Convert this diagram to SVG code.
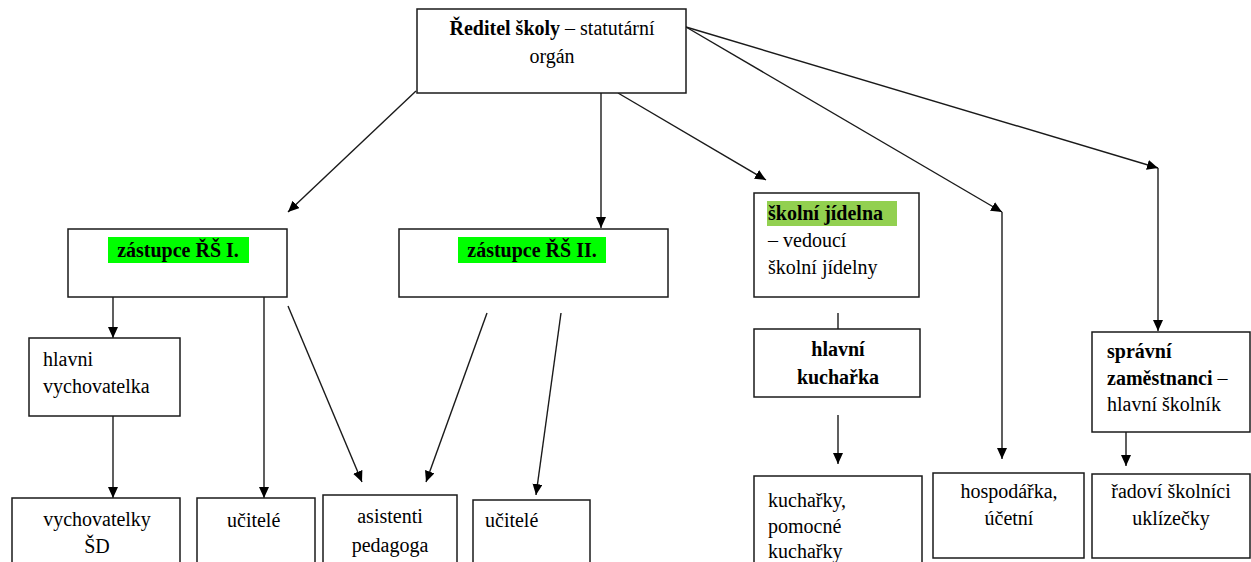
<svg xmlns="http://www.w3.org/2000/svg" width="1251" height="562" viewBox="0 0 1251 562">
<style>
.box{fill:#fff;stroke:#1a1a1a;stroke-width:1.5}
text{font-family:'Liberation Serif','DejaVu Serif','Times New Roman',serif;font-size:20px;fill:#000}
.c{text-anchor:middle}
.b{font-weight:bold}
.ln{stroke:#1a1a1a;stroke-width:1.4;fill:none}
.hl1{fill:#00ff00}
.hl2{fill:#92d050}
</style>
<defs>
<marker id="ah" markerUnits="userSpaceOnUse" markerWidth="12" markerHeight="11" refX="11" refY="5" orient="auto">
<path d="M0,0 L11,5 L0,10 z" fill="#000"/>
</marker>
</defs>
<rect width="1251" height="562" fill="#fff"/>
<g id="connectors">
<line class="ln" x1="416" y1="91" x2="288" y2="212" marker-end="url(#ah)"/>
<line class="ln" x1="601" y1="93" x2="601" y2="228" marker-end="url(#ah)"/>
<line class="ln" x1="618" y1="93" x2="766" y2="180" marker-end="url(#ah)"/>
<line class="ln" x1="686" y1="27" x2="1002" y2="212" marker-end="url(#ah)"/>
<line class="ln" x1="1002" y1="212" x2="1002" y2="459" marker-end="url(#ah)"/>
<line class="ln" x1="686" y1="27" x2="1158" y2="168" marker-end="url(#ah)"/>
<line class="ln" x1="1158" y1="168" x2="1158" y2="331" marker-end="url(#ah)"/>
<line class="ln" x1="113" y1="297" x2="113" y2="338" marker-end="url(#ah)"/>
<line class="ln" x1="113" y1="416" x2="113" y2="498" marker-end="url(#ah)"/>
<line class="ln" x1="264" y1="297" x2="264" y2="498" marker-end="url(#ah)"/>
<line class="ln" x1="288" y1="306" x2="362" y2="482" marker-end="url(#ah)"/>
<line class="ln" x1="487" y1="313" x2="426" y2="482" marker-end="url(#ah)"/>
<line class="ln" x1="561" y1="313" x2="536" y2="495" marker-end="url(#ah)"/>
<line class="ln" x1="838" y1="313" x2="838" y2="330"/>
<line class="ln" x1="838" y1="415" x2="838" y2="464" marker-end="url(#ah)"/>
<line class="ln" x1="1126" y1="432" x2="1126" y2="466" marker-end="url(#ah)"/>
</g>
<g id="reditel">
<rect class="box" x="417" y="9" width="269" height="84"/>
<text class="c" x="552" y="35"><tspan class="b">Ředitel školy</tspan> – statutární</text>
<text class="c" x="552" y="63">orgán</text>
</g>
<g id="zastupce1">
<rect class="box" x="68" y="229" width="219" height="68"/>
<rect class="hl1" x="108" y="237" width="141" height="26"/>
<text class="c b" x="178" y="257">zástupce ŘŠ I.</text>
</g>
<g id="zastupce2">
<rect class="box" x="399" y="229" width="269" height="68"/>
<rect class="hl1" x="458" y="237" width="148" height="26"/>
<text class="c b" x="532" y="257">zástupce ŘŠ II.</text>
</g>
<g id="jidelna">
<rect class="box" x="754" y="193" width="165" height="104"/>
<rect class="hl2" x="767" y="201" width="130" height="25"/>
<text class="b" x="768" y="220">školní jídelna</text>
<text x="768" y="247">– vedoucí</text>
<text x="768" y="274">školní jídelny</text>
</g>
<g id="hlavni-kucharka">
<rect class="box" x="754" y="329" width="166" height="68"/>
<text class="c b" x="838" y="356">hlavní</text>
<text class="c b" x="838" y="384">kuchařka</text>
</g>
<g id="spravni">
<rect class="box" x="1092" y="332" width="158" height="100"/>
<text class="b" x="1107" y="358">správní</text>
<text x="1107" y="385"><tspan class="b">zaměstnanci</tspan> –</text>
<text x="1107" y="411">hlavní školník</text>
</g>
<g id="hlavni-vychovatelka">
<rect class="box" x="29" y="338" width="151" height="78"/>
<text x="43" y="366">hlavni</text>
<text x="43" y="393">vychovatelka</text>
</g>
<g id="vychovatelky">
<rect class="box" x="12" y="498" width="168" height="70"/>
<text class="c" x="97" y="526">vychovatelky</text>
<text class="c" x="97" y="553">ŠD</text>
</g>
<g id="ucitele1">
<rect class="box" x="197" y="498" width="118" height="70"/>
<text x="227" y="527">učitelé</text>
</g>
<g id="asistenti">
<rect class="box" x="323" y="495" width="134" height="73"/>
<text class="c" x="390" y="523">asistenti</text>
<text class="c" x="390" y="552">pedagoga</text>
</g>
<g id="ucitele2">
<rect class="box" x="473" y="500" width="117" height="68"/>
<text x="485" y="527">učitelé</text>
</g>
<g id="kucharky">
<rect class="box" x="754" y="476" width="168" height="92"/>
<text x="768" y="507">kuchařky,</text>
<text x="768" y="533">pomocné</text>
<text x="768" y="558">kuchařky</text>
</g>
<g id="hospodarka">
<rect class="box" x="933" y="473" width="151" height="85"/>
<text class="c" x="1009" y="498">hospodářka,</text>
<text class="c" x="1009" y="525">účetní</text>
</g>
<g id="radovi">
<rect class="box" x="1092" y="474" width="158" height="84"/>
<text class="c" x="1171" y="498">řadoví školníci</text>
<text class="c" x="1171" y="525">uklízečky</text>
</g>
</svg>
